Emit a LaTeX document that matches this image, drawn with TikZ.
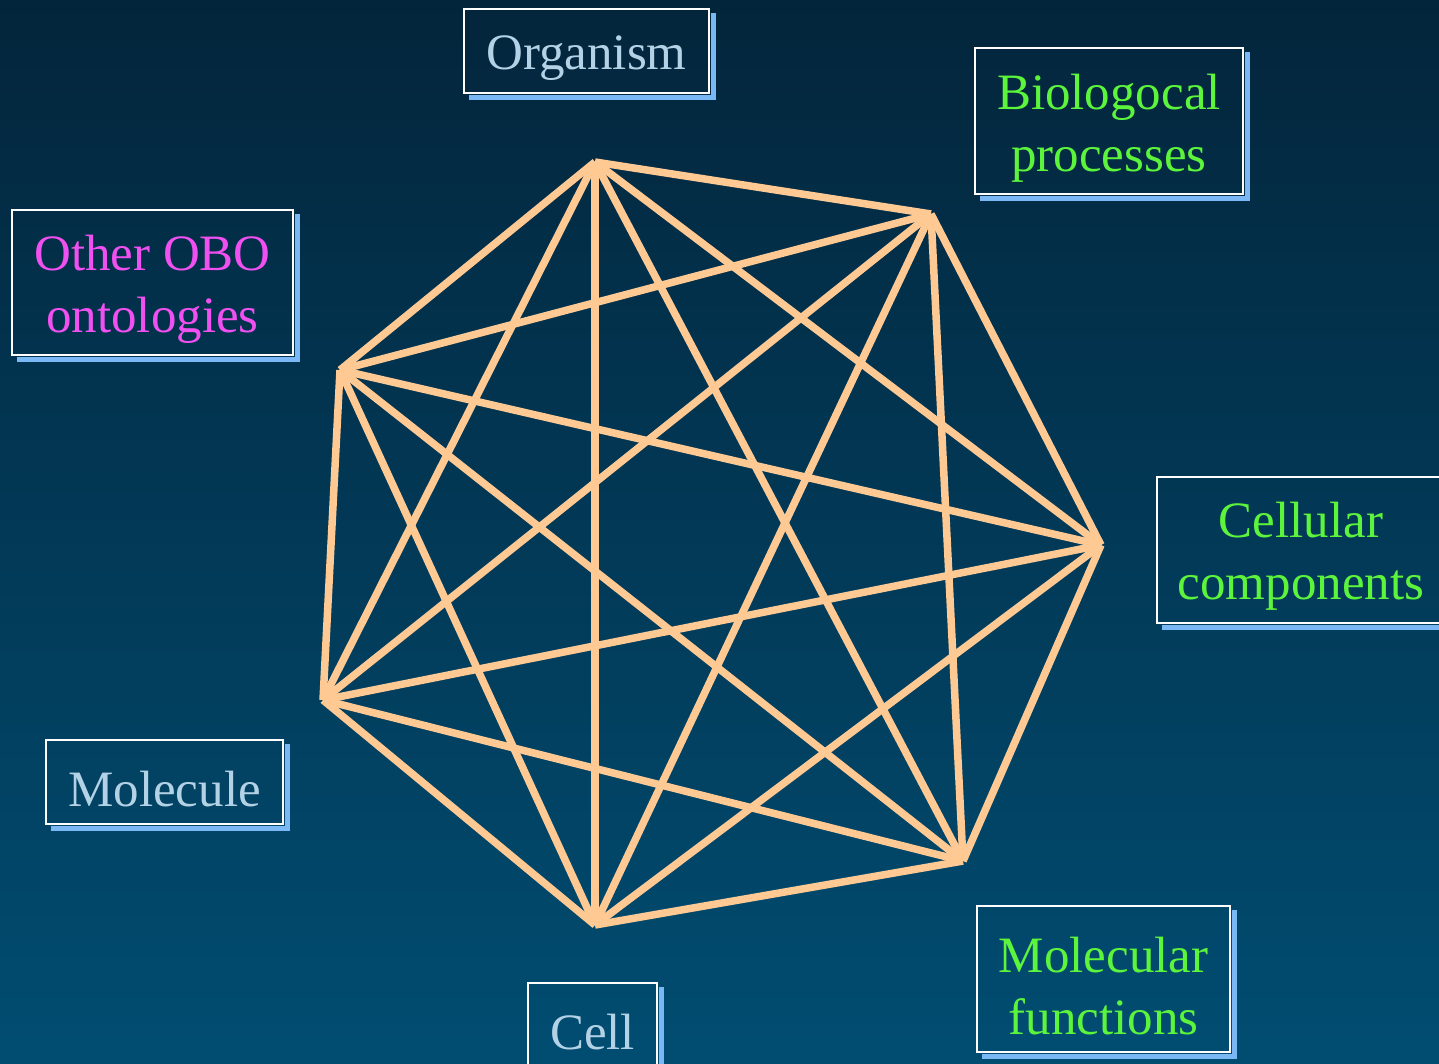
\documentclass[tikz,border=0pt]{standalone}
\usepackage{fontspec}
\setmainfont{Liberation Serif}
\usetikzlibrary{calc}
\definecolor{bgtop}{HTML}{03253B}
\definecolor{bgbot}{HTML}{014D72}
\definecolor{edgeor}{HTML}{FFC994}
\definecolor{shadowblue}{HTML}{7AB8F5}
\definecolor{txtgray}{HTML}{B4D2E6}
\definecolor{txtgreen}{HTML}{5CF53C}
\definecolor{txtmag}{HTML}{F050F0}
\tikzset{
  lbox/.style={draw=white, line width=2pt, inner sep=0pt},
  ltext/.style={inner sep=0pt, align=center, font=\fontsize{51}{62}\selectfont},
  link/.style={draw=edgeor, line width=7.5pt, line join=miter},
}
\newcommand{\boxshadow}[1]{%
  \fill[shadowblue] ($(#1.north east)+(1,5)$) rectangle ($(#1.south east)+(6,6)$);
  \fill[shadowblue] ($(#1.south west)+(6,1)$) rectangle ($(#1.south east)+(6,6)$);
}
\newcommand{\labelbox}[7]{% name, x, y, w, h, colour, text
  \node[lbox, minimum width=#4pt, minimum height=#5pt] (#1) at (#2,#3) {};
  \node[ltext, text=#6] (#1t) at ($(#1.center)+(0,7)$) {#7};
  \boxshadow{#1}
}
\begin{document}
\begin{tikzpicture}[x=1pt,y=-1pt]
\useasboundingbox (0,0) rectangle (1439,1063);
\shade[top color=bgtop, bottom color=bgbot] (0,0) rectangle (1439,1063);
% vertices
\coordinate (A) at (595,162);
\coordinate (B) at (931,214);
\coordinate (C) at (1101,545);
\coordinate (D) at (963,861);
\coordinate (E) at (595,925);
\coordinate (F) at (323,700);
\coordinate (G) at (340,370);
% edges
\foreach \u/\v in {A/B,A/C,A/D,A/E,A/F,A/G,B/C,B/D,B/E,B/F,B/G,C/D,C/E,C/F,C/G,D/E,D/F,D/G,E/F,E/G,F/G}
  \draw[link] (\u) -- (\v);
% label boxes
\labelbox{org}{586.5}{51}{245}{84}{txtgray}{Organism}
\labelbox{bio}{1109}{121}{268}{146}{txtgreen}{Biologocal\\processes}
\labelbox{obo}{152.5}{282.5}{281}{145}{txtmag}{Other OBO\\ontologies}
\labelbox{cel}{1301}{549.5}{288}{146}{txtgreen}{Cellular\\components}
\labelbox{mol}{164.5}{782}{237}{84}{txtgray}{Molecule}
\labelbox{cell}{592.5}{1025}{129}{84}{txtgray}{Cell}
\labelbox{mf}{1103.5}{979}{253}{146}{txtgreen}{Molecular\\functions}
\end{tikzpicture}
\end{document}
